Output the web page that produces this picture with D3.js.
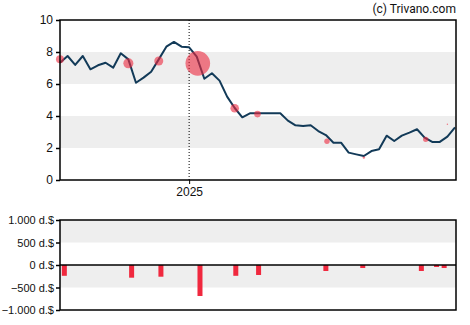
<!DOCTYPE html>
<html>
<head>
<meta charset="utf-8">
<script src="https://cdn.jsdelivr.net/npm/d3@7/dist/d3.min.js"></script>
<style>
  html, body { margin: 0; padding: 0; background: #fff; }
  svg { display: block; }
  text { font-family: "Liberation Sans", Arial, sans-serif; fill: #111; }
</style>
</head>
<body>
<svg id="chart" width="470" height="325"></svg>
<script>
// Weekly closing prices
const startDate = "2024-09-04";
const prices = [
  7.33, 7.75, 7.19, 7.75, 6.92, 7.17, 7.33, 7.02, 7.92, 7.54,
  6.08, 6.40, 6.77, 7.54, 8.33, 8.63, 8.33, 8.29, 7.71, 6.33,
  6.67, 6.21, 5.21, 4.50, 3.92, 4.17, 4.17, 4.17, 4.17, 4.17,
  3.71, 3.42, 3.38, 3.42, 3.06, 2.81, 2.33, 2.33, 1.71, 1.60,
  1.50, 1.81, 1.92, 2.77, 2.44, 2.77, 2.96, 3.17, 2.65, 2.38,
  2.38, 2.71, 3.29
];

// Insider trades: date, price, traded shares
const tradeDates  = ["2024-09-04", "2024-11-06", "2024-12-04", "2025-01-09", "2025-02-12",
                     "2025-03-05", "2025-05-08", "2025-06-11", "2025-08-07", "2025-08-27"];
const tradePrices = [7.54, 7.29, 7.44, 7.29, 4.48, 4.12, 2.42, 1.40, 2.54, 3.48];
const tradeShares = [10600, 16500, 13400, 100000, 12200, 7200, 4800, 950, 4800, 330];

// Net insider volume per period, in d.$
const flowDates  = ["2024-09-08", "2024-11-09", "2024-12-06", "2025-01-11", "2025-02-13",
                    "2025-03-06", "2025-05-07", "2025-06-10", "2025-08-03", "2025-08-17", "2025-08-24"];
const flowValues = [-240, -282, -260, -689, -240, -222, -133, -67, -133, -44, -67];

const priceTicks = [0, 2, 4, 6, 8, 10];
const priceBands = [[2, 4], [6, 8]];
const flowTicks = [1000, 500, 0, -500, -1000];
const flowBands = [[500, 1000], [-500, 0]];
const yearMark = "2025-01-01";
const yearLabel = "2025";
const copyright = "(c) Trivano.com";

const parse = d3.timeParse("%Y-%m-%d");
const t0 = parse(startDate);
const series = prices.map((v, i) => ({ date: d3.timeDay.offset(t0, i * 7), value: v }));
const trades = tradeDates.map((d, i) => ({ date: parse(d), price: tradePrices[i], shares: tradeShares[i] }));
const flows = flowDates.map((d, i) => ({ date: parse(d), value: flowValues[i] }));

const svg = d3.select("#chart");
const L = 60, R = 456;
const top1 = 20, bot1 = 180;
const top2 = 220, bot2 = 310;

const x = d3.scaleTime()
  .domain([series[0].date, series[series.length - 1].date])
  .range([L, R - 1]);
const y = d3.scaleLinear().domain([0, 10]).range([bot1, top1]);
const y2 = d3.scaleLinear().domain([-1000, 1000]).range([bot2, top2]);
const r = d3.scaleSqrt().domain([0, 100000]).range([0, 12.3]);

// Copyright
svg.append("text")
  .attr("x", R).attr("y", 13)
  .attr("text-anchor", "end")
  .style("font-family", "Roboto, sans-serif")
  .style("font-size", "12px")
  .text(copyright);

// ---- Price panel ----
const g1 = svg.append("g");
g1.selectAll("rect.band").data(priceBands).join("rect")
  .attr("class", "band")
  .attr("x", L).attr("width", R - L)
  .attr("y", d => y(d[1])).attr("height", d => y(d[0]) - y(d[1]))
  .attr("fill", "#eeeeee");

g1.append("line")
  .attr("x1", x(parse(yearMark))).attr("x2", x(parse(yearMark)))
  .attr("y1", top1).attr("y2", bot1)
  .attr("stroke", "#000").attr("stroke-width", 1)
  .attr("stroke-dasharray", "1,2");

g1.append("path")
  .datum(series)
  .attr("fill", "none")
  .attr("stroke", "#123a58")
  .attr("stroke-width", 2)
  .attr("stroke-linejoin", "round")
  .attr("d", d3.line().x(d => x(d.date)).y(d => y(d.value)));

g1.selectAll("circle").data(trades).join("circle")
  .attr("cx", d => x(d.date))
  .attr("cy", d => y(d.price))
  .attr("r", d => r(d.shares))
  .attr("fill", "rgba(236, 40, 62, 0.6)");

g1.append("rect")
  .attr("x", L).attr("y", top1).attr("width", R - L).attr("height", bot1 - top1)
  .attr("fill", "none").attr("stroke", "#000").attr("stroke-width", 1.5);

const yAxis = d3.axisLeft(y).tickValues(priceTicks).tickSize(4).tickPadding(3);
g1.append("g").attr("transform", `translate(${L},0)`).call(yAxis)
  .call(a => a.select(".domain").remove())
  .call(a => a.selectAll("text").style("font-size", "12px").attr("fill", "#111"))
  .call(a => a.selectAll("line").attr("stroke", "#000").attr("stroke-width", 1.5));

const xAxis = d3.axisBottom(x).tickValues([parse(yearMark)]).tickFormat(() => yearLabel).tickSize(4).tickPadding(3);
g1.append("g").attr("transform", `translate(0,${bot1})`).call(xAxis)
  .call(a => a.select(".domain").remove())
  .call(a => a.selectAll("text").style("font-size", "12px").attr("fill", "#111"))
  .call(a => a.selectAll("line").attr("stroke", "#000"));

// ---- Insider flow panel ----
const g2 = svg.append("g");
g2.selectAll("rect.band").data(flowBands).join("rect")
  .attr("class", "band")
  .attr("x", L).attr("width", R - L)
  .attr("y", d => y2(d[1])).attr("height", d => y2(d[0]) - y2(d[1]))
  .attr("fill", "#eeeeee");

g2.selectAll("rect.bar").data(flows).join("rect")
  .attr("class", "bar")
  .attr("x", d => x(d.date) - 2.5)
  .attr("width", 5)
  .attr("y", d => Math.min(y2(0), y2(d.value)))
  .attr("height", d => Math.abs(y2(d.value) - y2(0)))
  .attr("fill", "#f0283e");

g2.append("line")
  .attr("x1", L).attr("x2", R)
  .attr("y1", y2(0)).attr("y2", y2(0))
  .attr("stroke", "#000").attr("stroke-width", 1.5);

g2.append("rect")
  .attr("x", L).attr("y", top2).attr("width", R - L).attr("height", bot2 - top2)
  .attr("fill", "none").attr("stroke", "#000").attr("stroke-width", 1.5);

const fmt = v => d3.format(",")(v).replace(/,/g, ".") + " d.$";
const y2Axis = d3.axisLeft(y2).tickValues(flowTicks).tickFormat(fmt).tickSize(4).tickPadding(2);
g2.append("g").attr("transform", `translate(${L},0)`).call(y2Axis)
  .call(a => a.select(".domain").remove())
  .call(a => a.selectAll("text").style("font-size", "11px").attr("fill", "#111"))
  .call(a => a.selectAll("line").attr("stroke", "#000").attr("stroke-width", 1.5));
</script>
</body>
</html>
